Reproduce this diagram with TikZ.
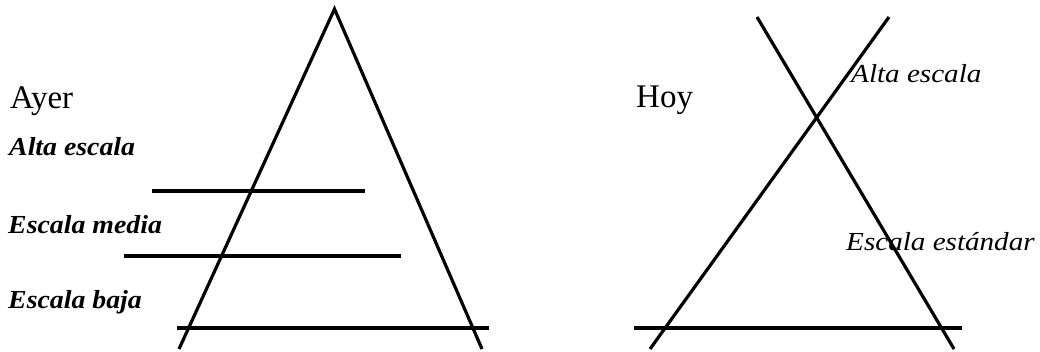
\documentclass[tikz,border=0pt]{standalone}
\usepackage{fontspec}
\setmainfont{Liberation Serif}
\newfontfamily\lvlfont[FakeStretch=1.07]{Liberation Serif}
\newfontfamily\tagfont[FakeStretch=1.12]{Liberation Serif}
\tikzset{
	title/.style={anchor=base west, inner sep=0pt, font=\fontsize{33}{36}\selectfont},
	level/.style={anchor=base west, inner sep=0pt, font=\lvlfont\fontsize{26}{30}\selectfont\bfseries\itshape},
	tag/.style={anchor=base west, inner sep=0pt, font=\tagfont\fontsize{26}{30}\selectfont\itshape},
	stroke/.style={line width=3.2pt}
}
\begin{document}
\begin{tikzpicture}[x=1pt, y=-1pt]
		\useasboundingbox (0, 0) rectangle (1040, 351);
		% ayer
		\coordinate (top) at (334.5, 9);
		\coordinate (bl) at (179, 349);
		\coordinate (br) at (482, 349);
		\draw[stroke] (bl) -- (top) -- (br);
		\draw[stroke] (152, 191) -- (365, 191);
		\draw[stroke] (124, 256) -- (401, 256);
		\draw[stroke] (177, 328) -- (489, 328);
		\node[title] (ayer) at (10, 108) {Ayer};
		\node[level] (alta) at (9, 155) {Alta escala};
		\node[level] (media) at (8, 233) {Escala media};
		\node[level] (baja) at (8, 308) {Escala baja};
		% hoy
		\coordinate (a1) at (757, 17);
		\coordinate (a2) at (954, 349);
		\coordinate (b1) at (889, 17);
		\coordinate (b2) at (650, 349);
		\draw[stroke] (a1) -- (a2);
		\draw[stroke] (b1) -- (b2);
		\draw[stroke] (634, 328) -- (962, 328);
		\node[title] (hoy) at (636, 107) {Hoy};
		\node[tag] (alta2) at (851, 82) {Alta escala};
		\node[tag] (std) at (846, 250) {Escala estándar};
	\end{tikzpicture}
\end{document}
